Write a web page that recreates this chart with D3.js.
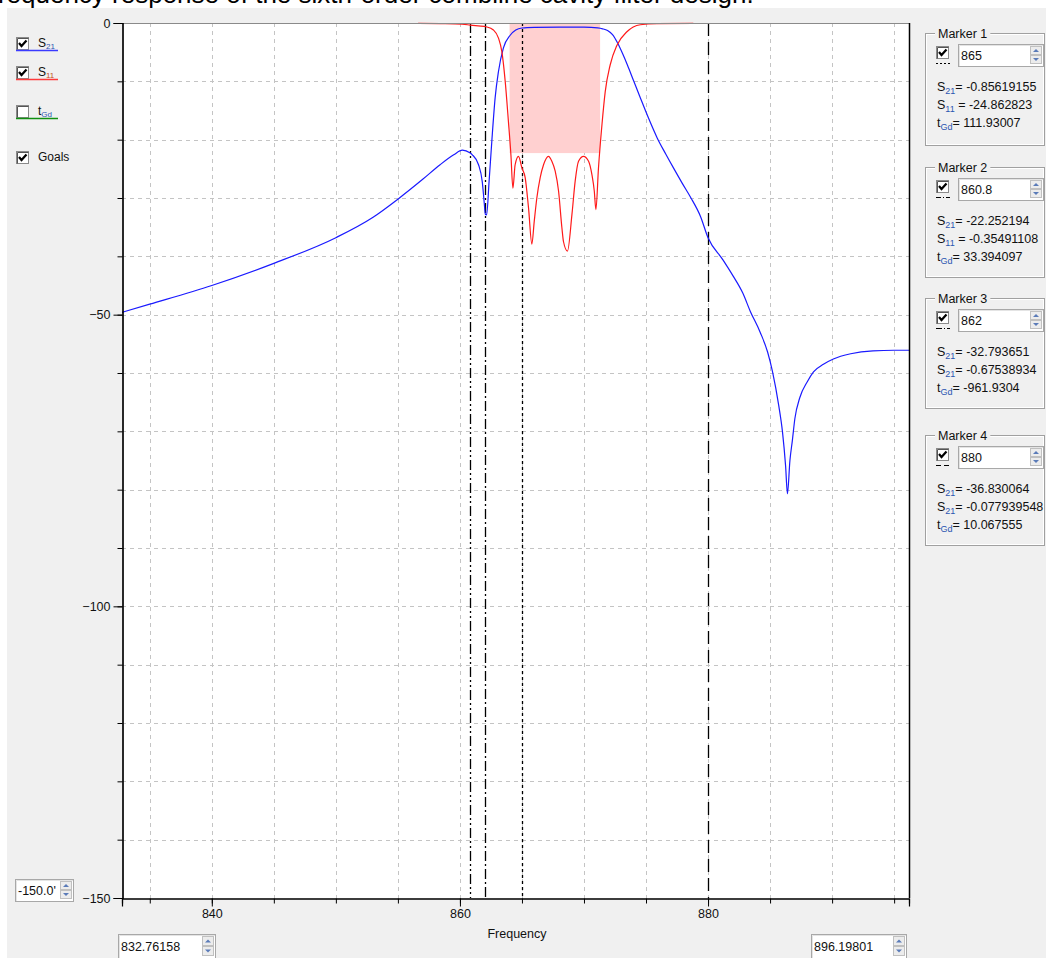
<!DOCTYPE html>
<html><head><meta charset="utf-8">
<script src="https://cdn.jsdelivr.net/npm/d3@7"></script>
<style>
html,body{margin:0;padding:0;background:#fff;overflow:hidden}
svg{display:block}
</style></head><body>
<svg id="c" width="1046" height="958"></svg>
<script>
// ---------------- data ----------------
const titleText = "Frequency response of the sixth-order combline cavity filter design.";
const xMin = 832.76158, xMax = 896.19801;
const yMin = -150, yMax = 0;
const xTicks = [835,840,845,850,855,860,865,870,875,880,885,890,895];
const xLabels = [840,860,880];
const yTicks = [0,-10,-20,-30,-40,-50,-60,-70,-80,-90,-100,-110,-120,-130,-140,-150];
const yLabels = [0,-50,-100,-150];

const s21Freq = [832.76,835,840,845,850,853,855,857,858.4,859.5,860.2,860.8,861.0,861.5,861.8,861.95,862.05,862.15,862.35,862.57,862.84,863.1,863.5,864.05,864.5,865.0,866,868,870,871.1,871.5,871.9,872.3,872.7,873.1,873.5,874.0,874.5,875.2,875.9,876.6,877.2,877.9,878.6,879.4,880.0,881.2,882.0,882.8,883.4,884.2,884.8,885.2,885.7,886.0,886.25,886.4,886.6,886.8,887.0,887.4,888.0,888.5,889.3,890.1,891.5,893.3,895,896.2];
const s21Db = [-49.6,-48.2,-45.0,-41.2,-36.8,-33.3,-30.2,-26.8,-24.3,-22.6,-21.8,-22.25,-22.6,-24.3,-27.2,-30.6,-32.79,-32.9,-27.2,-20.3,-12.8,-8.4,-4.3,-2.1,-1.2,-0.86,-0.75,-0.7,-0.72,-0.85,-1.0,-1.3,-2.0,-3.4,-5.2,-7.2,-9.9,-12.6,-16.3,-19.7,-22.5,-24.8,-27.4,-29.9,-33.2,-36.83,-40.6,-43.3,-46.3,-49.4,-53.0,-56.4,-59.8,-65.6,-70.1,-75.9,-80.7,-75.0,-71.5,-67.8,-64.2,-61.5,-59.8,-58.5,-57.6,-56.7,-56.2,-56.1,-56.1];

const s11Freq = [856.63,858.41,860.18,860.83,861.47,862.17,862.70,863.11,863.38,863.65,863.91,864.11,864.27,864.45,864.72,865.0,865.26,865.53,865.80,865.99,866.20,866.47,866.74,867.14,867.41,867.68,867.95,868.22,868.35,868.67,869.03,869.29,869.56,869.96,870.37,870.64,870.83,870.96,871.17,871.45,871.71,872.11,872.66,873.46,874.54,875.88,878.81];
const s11Db = [-0.05,-0.1,-0.2,-0.35,-0.5,-0.68,-1.2,-2.6,-4.9,-10.0,-16.9,-22.6,-28.3,-24.3,-22.85,-24.86,-26.5,-31.7,-37.9,-34.0,-30.0,-26.5,-24.3,-22.85,-23.7,-25.4,-28.8,-35.1,-37.5,-39.1,-32.8,-27.1,-23.7,-22.85,-23.7,-26.0,-28.8,-32.0,-24.8,-17.4,-11.8,-7.2,-3.8,-1.5,-0.3,-0.1,-0.05];

const goalStart = 864.0, goalEnd = 871.3, goalLevel = -22.3;

const markerNames = ["Marker 1","Marker 2","Marker 3","Marker 4"];
const markerFreqs = [865, 860.8, 862, 880];
const markerInputs = ["865","860.8","862","880"];
const markerDash = ["3,3","10,3,2,3,2,3","10,3,2,3","13,6"];
const markerRowNames = [
  [["S","21",""],["S","11"," "],["t","Gd",""]],
  [["S","21",""],["S","11"," "],["t","Gd",""]],
  [["S","21",""],["S","21",""],["t","Gd",""]],
  [["S","21",""],["S","21",""],["t","Gd",""]]
];
const markerValues = [
  ["-0.85619155","-24.862823","111.93007"],
  ["-22.252194","-0.35491108","33.394097"],
  ["-32.793651","-0.67538934","-961.9304"],
  ["-36.830064","-0.077939548","10.067555"]
];
const legendNames = [["S","21"],["S","11"],["t","Gd"],["Goals",""]];
const legendChecked = [true,true,false,true];
const legendColors = ["#3a3aff","#ff3a3a","#109010",null];
const yMinInput = "-150.0'";
const xMinInput = "832.76158";
const xMaxInput = "896.19801";
const xAxisTitle = "Frequency";

// ---------------- layout ----------------
const svg = d3.select("#c");
const FONT = "'Liberation Sans Narrow','Liberation Sans',Arial,sans-serif";
const P = {l:122, r:909, t:23, b:898};
const x = d3.scaleLinear().domain([xMin,xMax]).range([P.l,P.r]);
const y = d3.scaleLinear().domain([yMax,yMin]).range([P.t,P.b]);

// title (cut off at top, as in the reference)
svg.append("text").attr("x",-18).attr("y",3).attr("font-family","'Liberation Sans',Arial,sans-serif")
  .attr("font-size",26).attr("fill","#000").text(titleText);
// panel background
svg.append("rect").attr("x",7).attr("y",8).attr("width",1046-7).attr("height",958-8).attr("fill","#f0f0f0");

// plot background
svg.append("rect").attr("x",P.l).attr("y",P.t).attr("width",P.r-P.l).attr("height",P.b-P.t).attr("fill","#fff");

svg.append("defs").append("clipPath").attr("id","clip").append("rect")
  .attr("x",P.l).attr("y",P.t-1).attr("width",P.r-P.l).attr("height",P.b-P.t+1);

// grid
const grid = svg.append("g").attr("stroke","#c4c4c4").attr("stroke-dasharray","4,4").attr("stroke-width",1);
grid.selectAll("line.h").data(yTicks.filter(v=>v!==0 && v!==-150)).join("line")
  .attr("x1",P.l).attr("x2",P.r).attr("y1",d=>Math.round(y(d))+0.5).attr("y2",d=>Math.round(y(d))+0.5);
grid.selectAll("line.v").data(xTicks).join("line")
  .attr("y1",P.t).attr("y2",P.b).attr("x1",d=>Math.round(x(d))+0.5).attr("x2",d=>Math.round(x(d))+0.5);

const plot = svg.append("g").attr("clip-path","url(#clip)");
// goal band
plot.append("rect").attr("x",x(goalStart)).attr("y",y(0)).attr("width",x(goalEnd)-x(goalStart))
  .attr("height",y(goalLevel)-y(0)).attr("fill","#ffd0d0");

// marker lines
plot.selectAll("line.mk").data(markerFreqs).join("line")
  .attr("x1",d=>Math.round(x(d))+0.5).attr("x2",d=>Math.round(x(d))+0.5)
  .attr("y1",P.t).attr("y2",P.b).attr("stroke","#000").attr("stroke-width",1.3)
  .attr("stroke-dasharray",(d,i)=>markerDash[i]);

// curves
const line = d3.line().x(d=>x(d[0])).y(d=>y(d[1])).curve(d3.curveMonotoneX);
plot.append("path").datum(s21Freq.map((f,i)=>[f,s21Db[i]])).attr("d",line)
  .attr("fill","none").attr("stroke","#1a1aff").attr("stroke-width",1.2);
plot.append("path").datum(s11Freq.map((f,i)=>[f,s11Db[i]])).attr("d",line)
  .attr("fill","none").attr("stroke","#ff1a1a").attr("stroke-width",1.2);

// borders
svg.append("line").attr("x1",P.l).attr("x2",P.r).attr("y1",P.t+0.5).attr("y2",P.t+0.5).attr("stroke","#8a8a8a");
svg.append("line").attr("x1",P.r+0.5).attr("x2",P.r+0.5).attr("y1",P.t).attr("y2",P.b).attr("stroke","#000").attr("stroke-width",1.5);

// axes
const ax = svg.append("g").attr("font-family",FONT);
const yMinor = d3.axisLeft(y).tickValues(yTicks).tickSize(5).tickFormat("");
const yMajor = d3.axisLeft(y).tickValues(yLabels).tickSize(9).tickPadding(3).tickFormat(d3.format("d"));
ax.append("g").attr("transform",`translate(${P.l+0.5},0)`).call(yMinor);
ax.append("g").attr("transform",`translate(${P.l+0.5},0)`).call(yMajor);
const xMinor = d3.axisBottom(x).tickValues(xTicks).tickSize(5).tickFormat("");
const xMajor = d3.axisBottom(x).tickValues(xLabels).tickSize(8).tickPadding(3).tickFormat(d3.format("d"));
ax.append("g").attr("transform",`translate(0,${P.b+0.5})`).call(xMinor);
ax.append("g").attr("transform",`translate(0,${P.b+0.5})`).call(xMajor);
ax.selectAll("path.domain").attr("stroke","#000").attr("stroke-width",1.2);
ax.selectAll("text").attr("font-size",12.5).attr("fill","#111").attr("font-family",FONT);
ax.selectAll(".tick line").attr("stroke","#000");

svg.append("text").attr("x",517).attr("y",938).attr("text-anchor","middle")
  .attr("font-family",FONT).attr("font-size",12.5).attr("fill","#111").text(xAxisTitle);

// ---------------- widgets ----------------
function checkbox(g,x0,y0,checked){
  g.append("rect").attr("x",x0+0.5).attr("y",y0+0.5).attr("width",12).attr("height",12)
    .attr("fill","#fff").attr("stroke","#8a8a8a");
  g.append("path").attr("d",`M${x0+1.5},${y0+12.5}V${y0+1.5}H${x0+12.5}`).attr("fill","none").attr("stroke","#555");
  if(checked){
    g.append("path").attr("d",`M${x0+3},${y0+6} L${x0+5.5},${y0+9} L${x0+10.5},${y0+3.5}`)
      .attr("fill","none").attr("stroke","#000").attr("stroke-width",2.2);
  }
}
function spinInput(g,x0,y0,w,h,txt){
  g.append("rect").attr("x",x0+0.5).attr("y",y0+0.5).attr("width",w).attr("height",h)
    .attr("fill","#fff").attr("stroke","#a8a8a8");
  g.append("path").attr("d",`M${x0+1.5},${y0+h}V${y0+1.5}H${x0+w}`).attr("fill","none").attr("stroke","#e4e4e4");
  g.append("text").attr("x",x0+3).attr("y",y0+h/2+4.5).attr("font-family",FONT).attr("font-size",12.5)
    .attr("fill","#111").text(txt);
  const sx = x0+w-13, sh=(h-4)/2;
  [0,1].forEach(k=>{
    const by = y0+2+k*sh;
    g.append("rect").attr("x",sx+0.5).attr("y",by+0.5).attr("width",11).attr("height",sh-1)
      .attr("fill","#ececec").attr("stroke","#c0c0c0");
    const cx = sx+6, cy = by+sh/2;
    g.append("path").attr("d",k===0?`M${cx-3},${cy+1.5}L${cx},${cy-1.5}L${cx+3},${cy+1.5}Z`:`M${cx-3},${cy-1.5}L${cx},${cy+1.5}L${cx+3},${cy-1.5}Z`)
      .attr("fill","#5a7bb8");
  });
}
function subText(g,x0,y0,main,sub,rest,opts){
  opts = opts||{};
  const fs = opts.fs||12.5, sfs = opts.sfs||9, sdy = opts.sdy||3;
  const t = g.append("text").attr("x",x0).attr("y",y0).attr("font-family",FONT).attr("font-size",fs).attr("fill","#111");
  t.append("tspan").text(main);
  if(sub) t.append("tspan").attr("dy",sdy).attr("font-size",sfs).attr("fill",opts.subColor||"#2b56b0").text(sub);
  if(rest) t.append("tspan").attr("dy",sub?-sdy:0).text(rest);
  return t;
}

// left legend
const lg = svg.append("g");
const legY = [37,66,105,151];
legendNames.forEach((n,i)=>{
  checkbox(lg,16,legY[i],legendChecked[i]);
  subText(lg,38,legY[i]+10,n[0],n[1],"",{fs:12,sfs:8,sdy:2,subColor:i===1?"#c05020":"#2b56b0"});
  if(legendColors[i]) lg.append("line").attr("x1",16).attr("x2",58).attr("y1",legY[i]+13.5).attr("y2",legY[i]+13.5)
     .attr("stroke",legendColors[i]).attr("stroke-width",1.5);
});

// bottom / left inputs
spinInput(svg.append("g"),15,879,58,22,yMinInput);
spinInput(svg.append("g"),118,934,97,24,xMinInput);
spinInput(svg.append("g"),811,934,95,24,xMaxInput);

// marker group boxes
const mTop = [33,167,298,435];
const mBot = [145,277,408,545];
markerNames.forEach((name,i)=>{
  const g = svg.append("g");
  const T = mTop[i], B = mBot[i];
  g.append("rect").attr("x",925.5).attr("y",T+0.5).attr("width",1044-925).attr("height",B-T)
    .attr("fill","none").attr("stroke","#a0a0a0");
  g.append("rect").attr("x",926.5).attr("y",T+1.5).attr("width",1044-927).attr("height",B-T-2)
    .attr("fill","none").attr("stroke","#ffffff");
  const tt = g.append("text").attr("x",938).attr("y",T+4.5).attr("font-family",FONT).attr("font-size",12.5)
    .attr("fill","#111").text(name);
  const w = tt.node().getComputedTextLength();
  g.insert("rect","text").attr("x",935).attr("y",T-3).attr("width",w+6).attr("height",6).attr("fill","#f0f0f0");
  checkbox(g,936,T+13,true);
  g.append("line").attr("x1",936).attr("x2",950).attr("y1",T+30.5).attr("y2",T+30.5)
    .attr("stroke","#000").attr("stroke-width",1.2)
    .attr("stroke-dasharray",["2,2","5,2,1,2","6,2,1,2","5,3"][i]);
  spinInput(g,958,T+11,85,22,markerInputs[i]);
  markerRowNames[i].forEach((rn,k)=>{
    subText(g,937,T+58+k*18,rn[0],rn[1],rn[2]+"= "+markerValues[i][k]);
  });
});
</script>
</body></html>
